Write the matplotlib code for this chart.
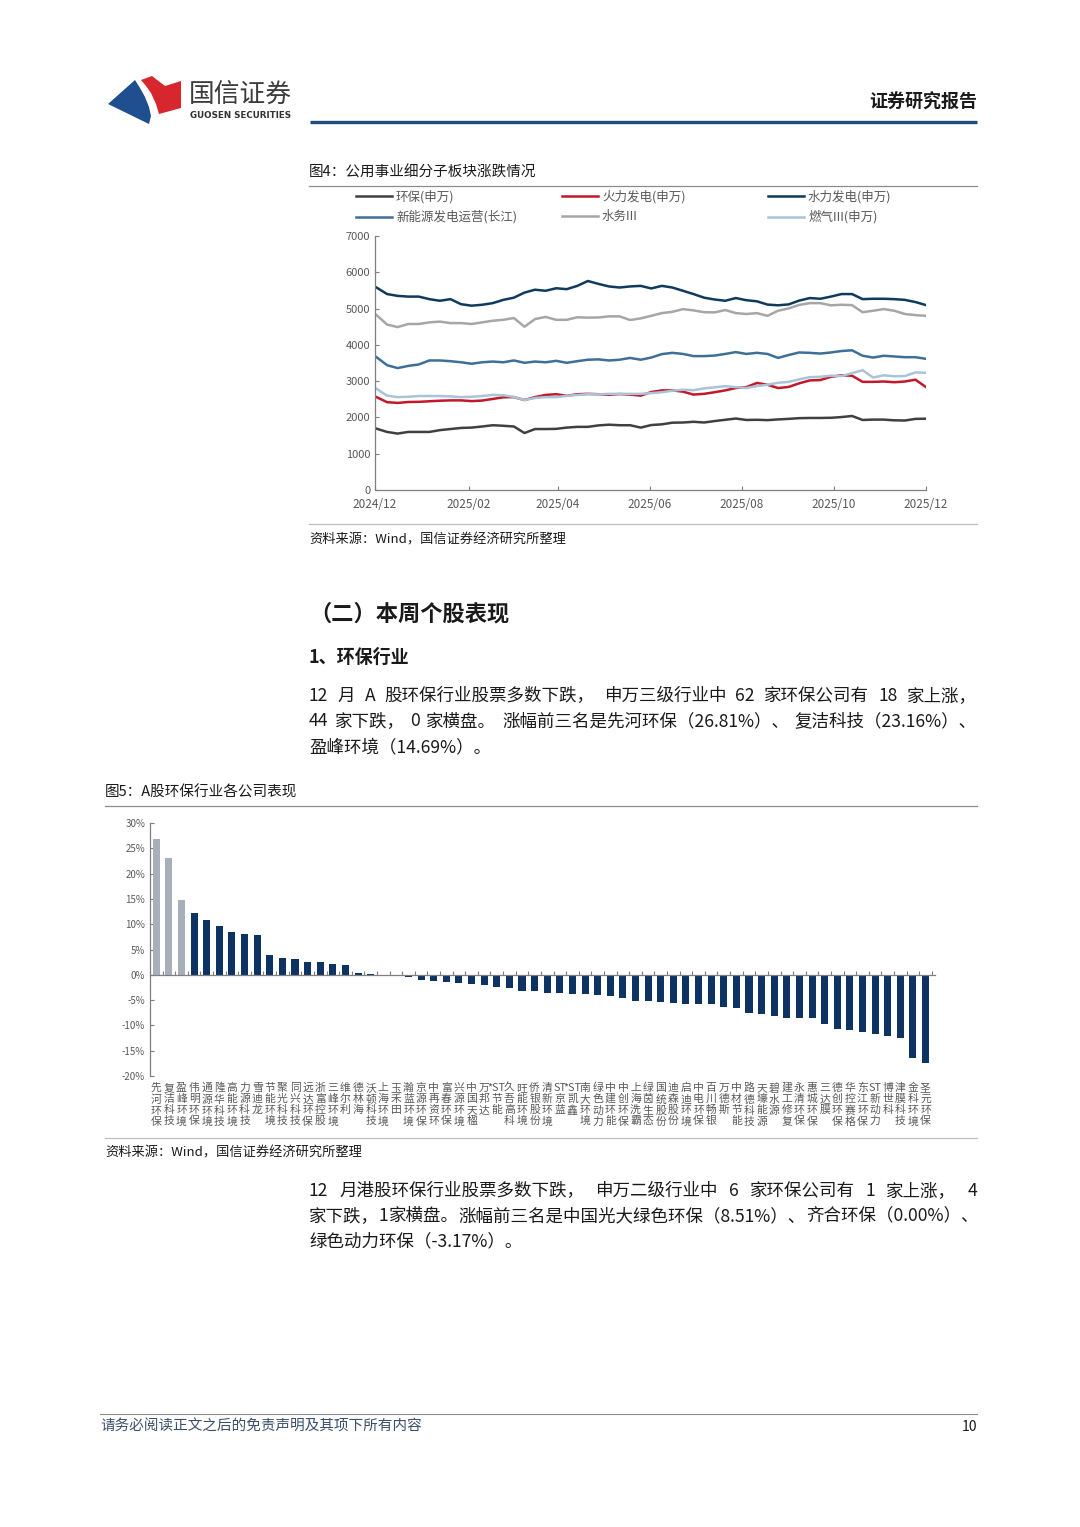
import matplotlib
matplotlib.use('Agg')
import re
import numpy as np
import pandas as pd
import matplotlib.pyplot as plt
import matplotlib.dates as mdates
from matplotlib.patches import Polygon
from matplotlib.ticker import FixedLocator, FuncFormatter

plt.rcParams['font.family'] = ['Noto Sans CJK SC', 'DejaVu Sans']
plt.rcParams['axes.unicode_minus'] = False

# ---------------- data: figure 4 (weekly readings) ----------------
dates = pd.date_range('2024-12-02', periods=53, freq='7D')

env_sw = [1690, 1600, 1555, 1600, 1600, 1600, 1650, 1680, 1710, 1720, 1750, 1785, 1770, 1750, 1570, 1680,
          1680, 1685, 1720, 1740, 1740, 1780, 1800, 1785, 1785, 1720, 1790, 1810, 1855, 1860, 1880, 1860,
          1900, 1935, 1970, 1930, 1935, 1925, 1945, 1960, 1980, 1985, 1985, 1990, 2010, 2040, 1930, 1940,
          1940, 1920, 1915, 1960, 1965]
thermal = [2560, 2420, 2400, 2425, 2430, 2445, 2460, 2470, 2470, 2450, 2465, 2510, 2555, 2560, 2480, 2560,
           2620, 2640, 2595, 2640, 2650, 2640, 2625, 2645, 2630, 2600, 2700, 2745, 2745, 2710, 2630, 2650,
           2695, 2745, 2810, 2835, 2950, 2900, 2810, 2840, 2940, 3020, 3030, 3120, 3160, 3150, 2980, 2980,
           2990, 2970, 2990, 3040, 2835]
hydro = [5580, 5400, 5350, 5330, 5330, 5260, 5215, 5260, 5120, 5080, 5105, 5150, 5240, 5300, 5440, 5520,
         5490, 5560, 5535, 5625, 5760, 5680, 5610, 5580, 5610, 5625, 5555, 5625, 5580, 5490, 5400, 5300,
         5250, 5215, 5290, 5230, 5200, 5110, 5090, 5115, 5220, 5290, 5270, 5330, 5400, 5400, 5260, 5270,
         5270, 5260, 5240, 5180, 5095]
new_energy = [3660, 3440, 3360, 3420, 3460, 3570, 3570, 3550, 3520, 3480, 3520, 3540, 3520, 3570, 3505, 3540,
              3520, 3560, 3505, 3550, 3590, 3600, 3570, 3590, 3640, 3590, 3650, 3745, 3780, 3750, 3690, 3690,
              3705, 3750, 3800, 3750, 3780, 3750, 3640, 3720, 3790, 3780, 3760, 3790, 3830, 3850, 3700, 3650,
              3700, 3680, 3660, 3660, 3615]
water = [4820, 4560, 4490, 4575, 4575, 4620, 4640, 4600, 4600, 4575, 4620, 4665, 4690, 4740, 4500, 4710,
         4770, 4690, 4690, 4760, 4750, 4755, 4785, 4785, 4685, 4730, 4800, 4875, 4910, 4985, 4950, 4900,
         4895, 4960, 4875, 4850, 4875, 4800, 4940, 5005, 5100, 5150, 5150, 5090, 5105, 5095, 4900, 4940,
         4985, 4940, 4850, 4820, 4800]
gas = [2790, 2600, 2560, 2570, 2590, 2590, 2590, 2580, 2560, 2570, 2590, 2620, 2610, 2565, 2480, 2535,
       2560, 2560, 2595, 2620, 2640, 2635, 2650, 2650, 2650, 2650, 2670, 2695, 2735, 2765, 2750, 2800,
       2830, 2860, 2835, 2810, 2865, 2900, 2955, 2980, 3050, 3110, 3120, 3150, 3140, 3220, 3300, 3100,
       3160, 3135, 3140, 3240, 3230]

series_names = ['环保(申万)', '新能源发电运营(长江)', '火力发电(申万)', '水务III', '水力发电(申万)', '燃气III(申万)']
series_vals = [env_sw, new_energy, thermal, water, hydro, gas]
series_colors = ['#404040', '#3e6f98', '#c3172b', '#a6a6a6', '#0f3a5e', '#a9c3d8']

# ---------------- data: figure 5 ----------------
companies = ['先河环保', '复洁科技', '盈峰环境', '伟明环保', '通源环境', '隆华科技', '高能环境', '力源科技',
             '雪迪龙', '节能环境', '聚光科技', '同兴科技', '远达环保', '浙富控股', '三峰环境', '维尔利',
             '德林海', '沃顿科技', '上海环境', '玉禾田', '瀚蓝环境', '京源环保', '中再资环', '富春环保',
             '兴源环境', '中国天楹', '万邦达', '*ST节能', '久吾高科', '旺能环境', '侨银股份', '清新环境',
             'ST京蓝', '*ST凯鑫', '南大环境', '绿色动力', '中建环能', '中创环保', '上海洗霸', '绿茵生态',
             '国统股份', '迪森股份', '启迪环境', '中电环保', '百川畅银', '万德斯', '中材节能', '路德科技',
             '天壕能源', '碧水源', '建工修复', '永清环保', '惠城环保', '三达膜', '德创环保', '华控赛格',
             '东江环保', 'ST新动力', '博世科', '津膜科技', '金科环境', '圣元环保']
changes = [26.81, 23.16, 14.69, 12.25, 10.8, 9.65, 8.5, 8.0, 7.95, 3.95, 3.35, 3.15, 2.6, 2.45, 2.2, 2.0,
           0.45, 0.25, -0.1, -0.2, -0.4, -1.05, -1.2, -1.45, -1.65, -1.8, -2.1, -2.4, -2.65, -3.2, -3.3,
           -3.5, -3.5, -3.8, -3.8, -3.9, -4.2, -4.5, -5.1, -5.1, -5.3, -5.6, -5.7, -5.8, -5.85, -6.3, -6.5,
           -7.5, -7.7, -8.2, -8.5, -8.5, -8.5, -9.7, -10.7, -10.9, -11.4, -11.7, -12.0, -12.5, -16.4, -17.5]
highlight_n = 3

W, H = 1080, 1527
fig = plt.figure(figsize=(W / 100, H / 100), dpi=100)
renderer = fig.canvas.get_renderer()


def fbox(x0, y0, x1, y1):
    return [x0 / W, 1 - y1 / H, (x1 - x0) / W, (y1 - y0) / H]


bg = fig.add_axes([0, 0, 1, 1], zorder=-5)
bg.set_xlim(0, W)
bg.set_ylim(H, 0)
bg.axis('off')

TXT = '#1a1a1a'
GRAY_T = '#595959'
PFS = 12.6


def justified(x0, x1, y, line, **kw):
    """Place a line of text so that it fills x0..x1, stretching at spaces and after punctuation."""
    chunks = [c for c in re.split(r'(?<=[，。、])| ', line) if c]
    objs = [bg.text(0, y, c, va='center', ha='left', **kw) for c in chunks]
    widths = [o.get_window_extent(renderer).width for o in objs]
    gap = max((x1 - x0 - sum(widths)) / max(len(chunks) - 1, 1), 0.0)
    x = x0
    for o, w in zip(objs, widths):
        o.set_x(x)
        x += w + gap


# ---------------- header ----------------
bg.add_patch(Polygon([(108, 104), (135, 80), (140, 88), (145, 97), (149, 107), (151, 116), (149, 124)],
                     closed=True, color='#1f4f8f', lw=0))
bg.add_patch(Polygon([(141, 80), (152, 76), (165, 86), (181, 81), (181, 108), (159, 114), (156, 104),
                      (151, 93), (146, 86)], closed=True, color='#d7262e', lw=0))
bg.text(189, 95, '国信证券', fontsize=18.5, color='#3c3c3c', va='center', ha='left', fontweight='medium')
bg.text(190, 115, 'GUOSEN SECURITIES', fontsize=6.3, color='#333333', va='center', ha='left',
        fontweight='bold', family=['Liberation Sans Narrow', 'DejaVu Sans'])
bg.text(977, 102, '证券研究报告', fontsize=13, color=TXT, va='center', ha='right', fontweight='bold')
bg.plot([310, 977], [122, 122], color='#1f4e79', lw=2.4, solid_capstyle='butt')

# ---------------- figure 4 ----------------
bg.text(309, 173, '图4：公用事业细分子板块涨跌情况', fontsize=10.5, color=TXT, va='center', ha='left')
bg.plot([309, 977], [186, 186], color='#8c8c8c', lw=0.9)
bg.plot([309, 977], [524, 524], color='#bfbfbf', lw=0.9)
bg.text(309, 540, '资料来源：Wind，国信证券经济研究所整理', fontsize=9.5, color=TXT, va='center', ha='left')

ax1 = fig.add_axes(fbox(375, 236, 926, 490))
lines = []
for name, vals, col in zip(series_names, series_vals, series_colors):
    ln, = ax1.plot(dates, vals, color=col, lw=1.8, label=name)
    lines.append(ln)
ax1.set_xlim(pd.Timestamp('2024-12-01'), pd.Timestamp('2025-12-01'))
ax1.set_ylim(0, 7000)
ax1.set_yticks(np.arange(0, 7001, 1000))
ax1.xaxis.set_major_locator(FixedLocator(mdates.date2num(pd.date_range('2024-12-01', '2025-12-01', freq='2MS'))))
ax1.xaxis.set_major_formatter(mdates.DateFormatter('%Y/%m'))
for s in ['top', 'right']:
    ax1.spines[s].set_visible(False)
for s in ['left', 'bottom']:
    ax1.spines[s].set_color('#7f7f7f')
    ax1.spines[s].set_linewidth(0.9)
ax1.tick_params(axis='both', direction='in', length=3, color='#7f7f7f', labelsize=8, labelcolor=GRAY_T)
ax1.tick_params(axis='x', pad=6, labelsize=8.5)

leg_x = [356, 562, 768]
for i, x0 in enumerate(leg_x):
    lg = ax1.legend(handles=lines[2 * i:2 * i + 2], loc='upper left',
                    bbox_to_anchor=(x0 / W, 1 - 190 / H), bbox_transform=fig.transFigure,
                    frameon=False, fontsize=9, handlelength=2.9, handletextpad=0.3,
                    labelspacing=0.55, borderpad=0, borderaxespad=0, labelcolor=GRAY_T)
    if i < 2:
        ax1.add_artist(lg)

# ---------------- section text ----------------
bg.text(309, 614, '（二）本周个股表现', fontsize=16, color=TXT, va='center', ha='left', fontweight='bold')
bg.text(309, 657, '1、环保行业', fontsize=13, color=TXT, va='center', ha='left', fontweight='bold')
para1 = ['12 月 A 股环保行业股票多数下跌，申万三级行业中 62 家环保公司有 18 家上涨，',
         '44 家下跌，0 家横盘。涨幅前三名是先河环保（26.81%）、复洁科技（23.16%）、',
         '盈峰环境（14.69%）。']
for i, t in enumerate(para1):
    if i < len(para1) - 1:
        justified(309, 977, 696 + 25.5 * i, t, fontsize=PFS, color=TXT)
    else:
        bg.text(309, 696 + 25.5 * i, t, fontsize=PFS, color=TXT, va='center', ha='left')

# ---------------- figure 5 ----------------
bg.text(105, 792, '图5：A股环保行业各公司表现', fontsize=10.5, color=TXT, va='center', ha='left')
bg.plot([105, 977], [806, 806], color='#8c8c8c', lw=0.9)
bg.plot([105, 977], [1138, 1138], color='#bfbfbf', lw=0.9)
bg.text(105, 1153, '资料来源：Wind，国信证券经济研究所整理', fontsize=9.5, color=TXT, va='center', ha='left')

ax2 = fig.add_axes(fbox(150, 823, 935, 1076))
xpos = np.arange(len(companies))
bar_colors = ['#a7afba' if i < highlight_n else '#0c3361' for i in range(len(companies))]
ax2.bar(xpos, changes, width=0.56, color=bar_colors, zorder=2)
ax2.set_xlim(-0.35, len(companies) - 0.25)
ax2.set_ylim(-20, 30)
ax2.set_yticks(np.arange(-20, 31, 5))
ax2.yaxis.set_major_formatter(FuncFormatter(lambda v, p: f'{int(v)}%'))
for s in ['top', 'right']:
    ax2.spines[s].set_visible(False)
ax2.spines['left'].set_color('#7f7f7f')
ax2.spines['left'].set_linewidth(0.9)
ax2.spines['bottom'].set_position(('data', 0))
ax2.spines['bottom'].set_color('#7f7f7f')
ax2.spines['bottom'].set_linewidth(0.9)
ax2.spines['bottom'].set_zorder(3)
ax2.set_xticks(np.arange(-0.5, len(companies), 1))
ax2.tick_params(axis='x', direction='in', length=3, color='#7f7f7f', labelbottom=False)
ax2.tick_params(axis='y', direction='in', length=3, color='#7f7f7f', labelsize=7, labelcolor=GRAY_T)


def stack(name):
    return '\n'.join(re.findall(r'\*?ST|.', name))


sec = ax2.secondary_xaxis(0)
sec.set_xticks(xpos, labels=[stack(c) for c in companies])
sec.tick_params(length=0, pad=5, labelsize=7.8, labelcolor=GRAY_T)
sec.spines['bottom'].set_visible(False)
for t in sec.get_xticklabels():
    t.set_linespacing(1.12)

para2 = ['12 月港股环保行业股票多数下跌，申万二级行业中 6 家环保公司有 1 家上涨，4',
         '家下跌，1 家横盘。涨幅前三名是中国光大绿色环保（8.51%）、齐合环保（0.00%）、',
         '绿色动力环保（-3.17%）。']
for i, t in enumerate(para2):
    if i < len(para2) - 1:
        justified(309, 977, 1191 + 25 * i, t, fontsize=PFS, color=TXT)
    else:
        bg.text(309, 1191 + 25 * i, t, fontsize=PFS, color=TXT, va='center', ha='left')

# ---------------- footer ----------------
bg.plot([100, 977], [1414, 1414], color='#8c8c8c', lw=0.8)
bg.text(100, 1426, '请务必阅读正文之后的免责声明及其项下所有内容', fontsize=10.5, color='#3a4f6a',
        va='center', ha='left')
bg.text(977, 1427, '10', fontsize=10, color=TXT, va='center', ha='right')

fig.savefig('out.png', dpi=100)
